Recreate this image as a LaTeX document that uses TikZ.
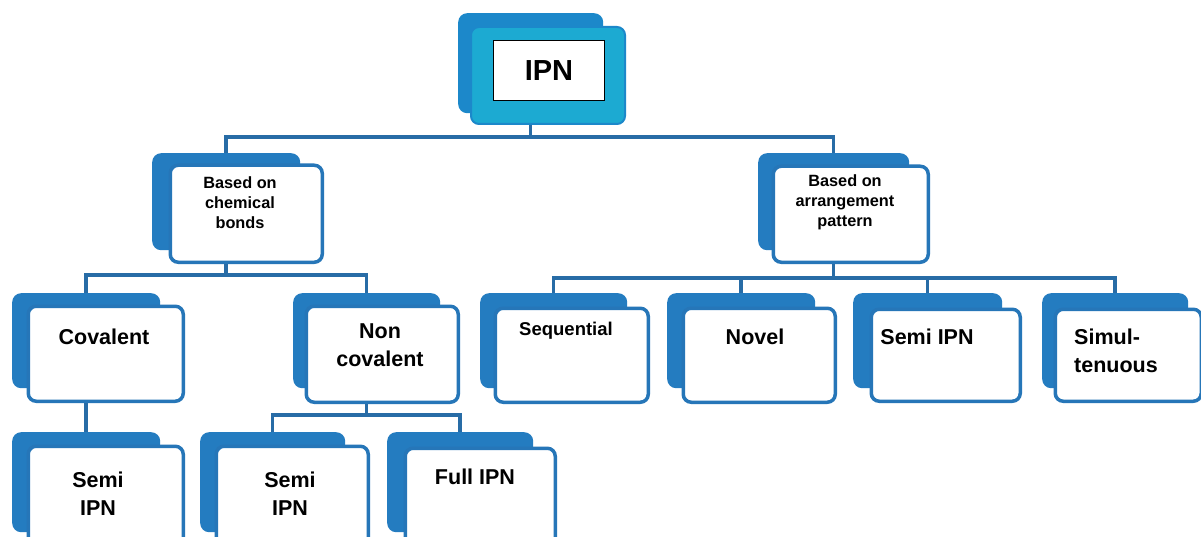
\documentclass[tikz,border=0pt]{standalone}
\usepackage{fontspec}
\setmainfont{Liberation Sans}
\definecolor{bk}{RGB}{36,124,192}
\definecolor{fr}{RGB}{38,118,184}
\definecolor{ln}{RGB}{40,108,166}
\definecolor{cy}{RGB}{28,170,210}
\definecolor{bkt}{RGB}{28,136,202}
\tikzset{
 backbox/.style={fill=bk, draw=none, rounded corners=9pt, inner sep=0pt, anchor=north west},
 frontbox/.style={fill=white, draw=fr, line width=3.5pt, rounded corners=8pt, inner sep=0pt, anchor=north west},
 conn/.style={draw=ln, line width=3.5pt},
 lbl/.style={font=\bfseries\fontsize{21.5}{28}\selectfont, align=center, inner sep=0pt},
 smalllbl/.style={font=\bfseries\fontsize{16.3}{20}\selectfont, align=center, inner sep=0pt},
}
\begin{document}
\begin{tikzpicture}[x=1pt,y=-1pt]
\useasboundingbox (0,0) rectangle (1201,537);
\clip (0,0) rectangle (1201,537);
\fill[white] (0,0) rectangle (1201,537);

% top IPN
\node[backbox, fill=bkt, minimum width=145pt, minimum height=100pt] (ipnB) at (458,13) {};
\node[frontbox, fill=cy, draw=bkt, line width=2pt, minimum width=154pt, minimum height=97pt] (ipnF) at (470,26) {};
\node[fill=white, draw=black, line width=1pt, minimum width=111pt, minimum height=60pt, anchor=north west, inner sep=0pt,
      font=\bfseries\fontsize{29}{32}\selectfont] (ipn) at (493,40) {IPN};

% level 1
\node[backbox, minimum width=148pt, minimum height=97pt] (chemB) at (152,153) {};
\node[frontbox, minimum width=152pt, minimum height=97pt] (chemF) at (168.5,163.5) {};
\node[smalllbl] (chem) at (240,203) {Based on\\chemical\\bonds};

\node[backbox, minimum width=151pt, minimum height=97pt] (arrB) at (758,153) {};
\node[frontbox, minimum width=155pt, minimum height=96pt] (arrF) at (771.5,164.5) {};
\node[smalllbl] (arr) at (845,202) {Based on\\arrangement\\pattern};

% level 2 left
\node[backbox, minimum width=148pt, minimum height=95pt] (covB) at (12,293) {};
\node[frontbox, minimum width=155pt, minimum height=95pt] (covF) at (26.5,304.5) {};
\node[lbl] (cov) at (104,337) {Covalent};

\node[backbox, minimum width=147pt, minimum height=95pt] (nonB) at (293,293) {};
\node[frontbox, minimum width=152pt, minimum height=96pt] (nonF) at (304.5,304.5) {};
\node[lbl] (non) at (380,345) {Non\\covalent};

% level 2 right
\node[backbox, minimum width=147pt, minimum height=95pt] (seqB) at (480,293) {};
\node[frontbox, minimum width=153pt, minimum height=94pt] (seqF) at (493.5,306.5) {};
\node[lbl, font=\bfseries\fontsize{18.5}{24}\selectfont] (seq) at (566,331) {Sequential};

\node[backbox, minimum width=148pt, minimum height=95pt] (novB) at (667,293) {};
\node[frontbox, minimum width=152pt, minimum height=94pt] (novF) at (681.5,306.5) {};
\node[lbl] (nov) at (755,337) {Novel};

\node[backbox, minimum width=149pt, minimum height=95pt] (semB) at (853,293) {};
\node[frontbox, minimum width=149pt, minimum height=92pt] (semF) at (869.5,307.5) {};
\node[lbl] (sem) at (927,337) {Semi IPN};

\node[backbox, minimum width=146pt, minimum height=95pt] (simB) at (1042,293) {};
\node[frontbox, minimum width=146pt, minimum height=92pt] (simF) at (1053.5,307.5) {};
\node[lbl, align=left] (sim) at (1116,351) {Simul-\\tenuous};

% level 3
\node[backbox, minimum width=148pt, minimum height=100pt] (s1B) at (12,432) {};
\node[frontbox, minimum width=155pt, minimum height=100pt] (s1F) at (26.5,444.5) {};
\node[lbl] (s1) at (98,494) {Semi\\IPN};

\node[backbox, minimum width=145pt, minimum height=100pt] (s2B) at (200,432) {};
\node[frontbox, minimum width=152pt, minimum height=100pt] (s2F) at (214.5,444.5) {};
\node[lbl] (s2) at (290,494) {Semi\\IPN};

\node[backbox, minimum width=146pt, minimum height=100pt] (fullB) at (387,432) {};
\node[frontbox, minimum width=150pt, minimum height=100pt] (fullF) at (403.5,446.5) {};
\node[lbl] (full) at (475,477) {Full IPN};

% connectors
\draw[conn] (ipnF.south -| ipnB.south) -- (ipnB.south |- 0,137) coordinate (j1);
\draw[conn] (chemB.north) |- (j1) -| (arrB.north);

\draw[conn] (chemF.south -| chemB.south) -- (chemB.south |- 0,275) coordinate (j2);
\draw[conn] (covB.north) |- (j2) -| (nonB.north);

\draw[conn] (covF.south -| covB.south) -- (s1B.north);

\draw[conn] (nonF.south -| nonB.south) -- (nonB.south |- 0,415) coordinate (j3);
\draw[conn] (s2B.north) |- (j3) -| (fullB.north);

\draw[conn] (arrF.south -| arrB.south) -- (arrB.south |- 0,278) coordinate (j4);
\draw[conn] (seqB.north) |- (j4) -| (simB.north);
\draw[conn] (novB.north) -- (novB.north |- j4);
\draw[conn] (semB.north) -- (semB.north |- j4);
\end{tikzpicture}
\end{document}
